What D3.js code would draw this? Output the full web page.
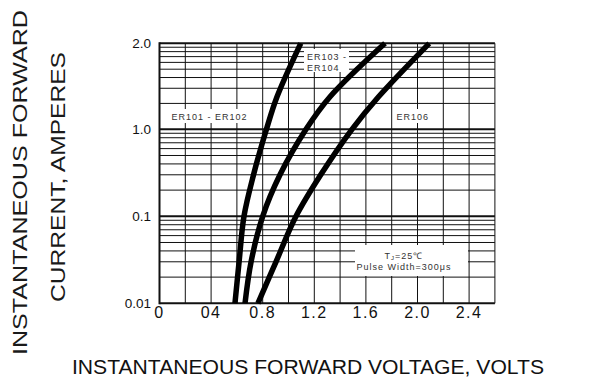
<!DOCTYPE html>
<html>
<head>
<meta charset="utf-8">
<script src="https://cdn.jsdelivr.net/npm/d3@7"></script>
<style>
  body { margin: 0; background: #fff; }
  svg { display: block; font-family: "Liberation Sans", Arial, sans-serif; }
</style>
</head>
<body>
<svg id="chart" width="597" height="382"></svg>
<script>
// forward characteristics
const er101Volts = [0.585, 0.617, 0.655, 0.729, 0.829, 0.911, 1.095];
const er101Amps  = [0.01, 0.03, 0.1, 0.3, 1.0, 1.3, 2.0];
const er103Volts = [0.663, 0.71, 0.80, 0.934, 1.136, 1.322, 1.748];
const er103Amps  = [0.01, 0.03, 0.1, 0.3, 1.0, 1.3, 2.0];
const er106Volts = [0.763, 0.903, 1.058, 1.25, 1.492, 1.698, 2.091];
const er106Amps  = [0.01, 0.03, 0.1, 0.3, 1.0, 1.3, 2.0];

const xTicks = [0, 0.4, 0.8, 1.2, 1.6, 2.0, 2.4];
const xTickLabels = ["0", "04", "0.8", "1.2", "1.6", "2.0", "2.4"];
const xGrid = [0.2, 0.4, 0.6, 0.8, 1.0, 1.2, 1.4, 1.6, 1.8, 2.0, 2.2, 2.4];
const yTicks = [0.01, 0.1, 1, 2];
const yTickLabels = ["0.01", "0.1", "1.0", "2.0"];

const svg = d3.select("#chart");

const x = d3.scaleLinear().domain([0, 2.6]).range([159.5, 494.9]);
// top segment of the sheet is stretched to a full decade
const y = d3.scaleLog().domain([0.01, 1, 2]).range([303.3, 129.3, 43.3]);

const grid = svg.append("g").attr("stroke", "#111");

// minor horizontal lines, one decade pattern per segment
const minor = [];
[[0.01, 0.1], [0.1, 1], [1, 2]].forEach(([lo, hi]) => {
    const y0 = y(lo), y1 = y(hi);
    d3.range(2, 10).forEach(k => minor.push(y0 + (y1 - y0) * Math.log10(k)));
});
grid.selectAll(".hminor")
    .data(minor)
    .enter().append("line")
    .attr("x1", x(0)).attr("x2", x(2.6))
    .attr("y1", d => d).attr("y2", d => d)
    .attr("stroke-width", 1);

grid.selectAll(".hmajor")
    .data(yTicks)
    .enter().append("line")
    .attr("x1", x(0)).attr("x2", x(2.6))
    .attr("y1", d => y(d)).attr("y2", d => y(d))
    .attr("stroke-width", 2);

grid.selectAll(".vgrid")
    .data(xGrid)
    .enter().append("line")
    .attr("x1", d => x(d)).attr("x2", d => x(d))
    .attr("y1", y(2)).attr("y2", y(0.01))
    .attr("stroke-width", 1);

grid.append("line")
    .attr("x1", x(2.6)).attr("x2", x(2.6))
    .attr("y1", y(2)).attr("y2", y(0.01))
    .attr("stroke-width", 1);

grid.append("line")
    .attr("x1", x(0)).attr("x2", x(0))
    .attr("y1", y(2) - 1).attr("y2", y(0.01) + 1)
    .attr("stroke-width", 2);

// label boxes cut the grid
const boxes = [
    [168, 109, 82, 14],
    [393, 109, 32, 14],
    [304, 49, 45, 23],
    [355, 245, 113, 31]
];
svg.selectAll(".box")
    .data(boxes)
    .enter().append("rect")
    .attr("x", d => d[0]).attr("y", d => d[1])
    .attr("width", d => d[2]).attr("height", d => d[3])
    .attr("fill", "#fff");

const line = d3.line()
    .x(d => x(d[0]))
    .y(d => y(d[1]))
    .curve(d3.curveCatmullRom.alpha(0.5));

[[er101Volts, er101Amps], [er103Volts, er103Amps], [er106Volts, er106Amps]].forEach(([v, a]) => {
    svg.append("path")
        .datum(v.map((d, i) => [d, a[i]]))
        .attr("d", line)
        .attr("fill", "none")
        .attr("stroke", "#000")
        .attr("stroke-width", 5.5);
});

// curve labels
const small = svg.append("g")
    .attr("font-size", 9)
    .attr("letter-spacing", 1)
    .attr("fill", "#333");
small.append("text").attr("x", 171.5).attr("y", 120).text("ER101 - ER102");
small.append("text").attr("x", 396.5).attr("y", 120).text("ER106");
small.append("text").attr("x", 307).attr("y", 60).text("ER103 -");
small.append("text").attr("x", 307).attr("y", 70.5).text("ER104");

const tj = small.append("text").attr("x", 404).attr("y", 258.5).attr("text-anchor", "middle");
tj.append("tspan").text("T");
tj.append("tspan").attr("font-size", 6).attr("dy", 1).text("J");
tj.append("tspan").attr("dy", -1).text("=25\u2103");
small.append("text").attr("x", 404).attr("y", 269.5).attr("text-anchor", "middle")
    .text("Pulse Width=300\u03bcs");

// axis tick labels
svg.append("g")
    .selectAll("text")
    .data(yTicks)
    .enter().append("text")
    .attr("x", 151)
    .attr("y", d => y(d) + 4.5)
    .attr("text-anchor", "end")
    .attr("font-size", 13.5)
    .attr("fill", "#111")
    .text((d, i) => yTickLabels[i]);

svg.append("g")
    .selectAll("text")
    .data(xTicks)
    .enter().append("text")
    .attr("x", d => x(d))
    .attr("y", 318)
    .attr("text-anchor", "middle")
    .attr("font-size", 16)
    .attr("letter-spacing", 1.5)
    .attr("fill", "#111")
    .text((d, i) => xTickLabels[i]);

// axis titles (stretched like the original sheet)
svg.append("text")
    .attr("transform", "translate(26.7,182.5) rotate(-90)")
    .attr("text-anchor", "middle")
    .attr("font-size", 20)
    .attr("textLength", 345)
    .attr("lengthAdjust", "spacingAndGlyphs")
    .attr("fill", "#1a1a1a")
    .text("INSTANTANEOUS FORWARD");

svg.append("text")
    .attr("transform", "translate(64.5,177) rotate(-90)")
    .attr("text-anchor", "middle")
    .attr("font-size", 20)
    .attr("textLength", 250)
    .attr("lengthAdjust", "spacingAndGlyphs")
    .attr("fill", "#1a1a1a")
    .text("CURRENT, AMPERES");

svg.append("text")
    .attr("x", 72)
    .attr("y", 374)
    .attr("font-size", 21)
    .attr("textLength", 472)
    .attr("lengthAdjust", "spacingAndGlyphs")
    .attr("fill", "#111")
    .text("INSTANTANEOUS FORWARD VOLTAGE,  VOLTS");
</script>
</body>
</html>
